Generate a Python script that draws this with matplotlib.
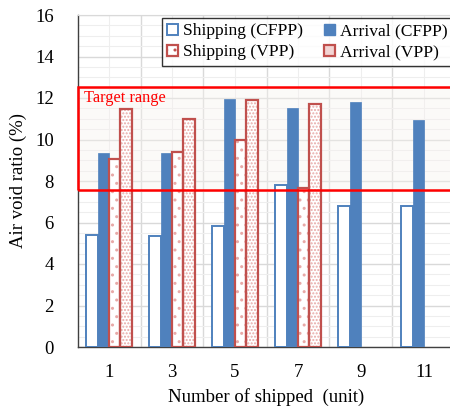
import matplotlib
matplotlib.use("Agg")
import matplotlib.pyplot as plt
from matplotlib.patches import Rectangle, Patch
from matplotlib.ticker import MultipleLocator
import numpy as np

plt.rcParams['font.family'] = ['Liberation Serif', 'DejaVu Serif']
plt.rcParams['hatch.linewidth'] = 1.0

categories = ["1", "3", "5", "7", "9", "11"]
shipping_cfpp = [5.4, 5.35, 5.85, 7.8, 6.8, 6.8]
arrival_cfpp = [9.33, 9.33, 11.94, 11.53, 11.8, 10.94]
shipping_vpp = [9.05, 9.4, 9.98, 7.65]
arrival_vpp = [11.49, 10.99, 11.9, 11.7]
target_low, target_high = 7.57, 12.52

BLUE = '#4F81BD'
RED = '#C0504D'
HATCH_RED = '#E8A9A7'

fig = plt.figure(figsize=(4.5, 4.07), dpi=100)
ax = fig.add_axes([77.5/450, 1-347/407, (455.5-77.5)/450, (347-15)/407])

x = np.arange(len(categories))
w = 0.18

# grid
ax.set_axisbelow(True)
ax.yaxis.set_major_locator(MultipleLocator(2))
ax.yaxis.set_minor_locator(MultipleLocator(0.5))
ax.set_xticks(x)
ax.set_xticks(x[:-1] + 0.5, minor=True)
ax.grid(True, which='major', axis='y', color='#d9d9d9', lw=1.0)
ax.grid(True, which='minor', axis='y', color='#eeeeee', lw=0.8)
ax.grid(True, which='minor', axis='x', color='#d9d9d9', lw=1.0)
ax.grid(True, which='major', axis='x', color='#eeeeee', lw=0.8)

# target range
ax.add_patch(Rectangle((-0.5, target_low), 6.5, target_high - target_low,
                       facecolor='#f7f3ef', alpha=0.4, edgecolor='none', zorder=1.5))
ax.add_patch(Rectangle((-0.5, target_low), 6.5, target_high - target_low,
                       facecolor='none', edgecolor='#FF0000', lw=1.8, zorder=5, clip_on=False))
ax.text(-0.4, 12.4, "Target range", color='#FF0000', fontsize=11.8, va='top', ha='left', zorder=6)

# bars
ax.bar(x - 1.5*w, shipping_cfpp, w, facecolor='white', edgecolor=BLUE, lw=1.4, zorder=3)
ax.bar(x - 0.5*w, arrival_cfpp, w, facecolor=BLUE, edgecolor=BLUE, lw=0.5, zorder=3)
xv = x[:len(shipping_vpp)]
ax.bar(xv + 0.5*w, shipping_vpp, w, facecolor='white', edgecolor=HATCH_RED, lw=0, hatch='..', zorder=3)
ax.bar(xv + 0.5*w, shipping_vpp, w, facecolor='none', edgecolor=RED, lw=1.6, zorder=3.1)
ax.bar(xv + 1.5*w, arrival_vpp, w, facecolor='white', edgecolor=HATCH_RED, lw=0, hatch='.....', zorder=3)
ax.bar(xv + 1.5*w, arrival_vpp, w, facecolor='none', edgecolor=RED, lw=1.6, zorder=3.1)

ax.set_xlim(-0.5, 5.5)
ax.set_ylim(0, 16)
ax.set_xticklabels(categories)
ax.tick_params(axis='both', which='both', length=0, labelsize=13.5)
ax.tick_params(axis='y', pad=17)
ax.tick_params(axis='x', pad=12)

for s in ['left', 'bottom']:
    ax.spines[s].set_color('#404040')
    ax.spines[s].set_linewidth(1.0)
ax.spines['top'].set_color('#d9d9d9')
ax.spines['right'].set_visible(False)

ax.set_ylabel("Air void ratio (%)", fontsize=13.5, labelpad=6)
ax.set_xlabel("Number of shipped  (unit)", fontsize=13.5, labelpad=5)

# legend
h1 = Patch(facecolor='white', edgecolor=BLUE, lw=1.4)
h2 = Patch(facecolor=BLUE, edgecolor=BLUE)
h3 = Patch(facecolor='white', edgecolor=RED, lw=1.6, hatch='..')
h4 = Patch(facecolor='#f2d4d3', edgecolor=RED, lw=1.6)
leg = fig.legend([h1, h3, h2, h4],
                 ["Shipping (CFPP)", "Shipping (VPP)", "Arrival (CFPP)", "Arrival (VPP)"],
                 ncol=2, loc='upper left', bbox_to_anchor=(162/450, 1-18/407),
                 bbox_transform=fig.transFigure, borderaxespad=0, fontsize=12.6,
                 frameon=True, fancybox=False, handlelength=0.6, handleheight=0.6,
                 handletextpad=0.3, columnspacing=1.2, labelspacing=0.3, borderpad=0.3)
leg.get_frame().set_edgecolor('black')
leg.get_frame().set_linewidth(1.0)
leg.set_zorder(10)

fig.savefig("out.png", dpi=100)
